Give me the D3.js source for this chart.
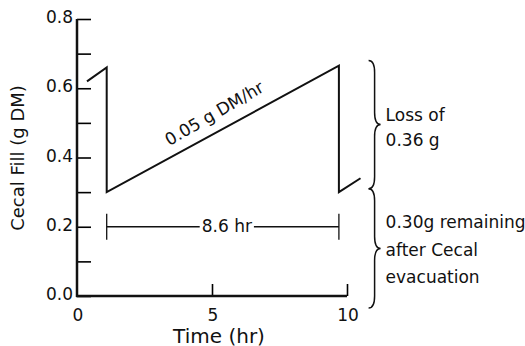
<!DOCTYPE html>
<html>
<head>
<meta charset="utf-8">
<script src="https://cdn.jsdelivr.net/npm/d3@7"></script>
<style>
  body { margin: 0; background: white; }
  text { font-family: "DejaVu Sans", sans-serif; fill: #111; }
</style>
</head>
<body>
<svg width="525" height="346"></svg>
<script>
// cecal fill sawtooth
var times = [0.37, 1.1, 1.1, 9.7, 9.7, 10.5]
var fill = [0.62, 0.66, 0.30, 0.665, 0.30, 0.34]

var yTicks = [0, 0.1, 0.2, 0.3, 0.4, 0.5, 0.6, 0.7, 0.8]
var yLabels = [0, 0.2, 0.4, 0.6, 0.8]
var xTicks = [0, 5, 10]

// annotations
var interval = { from: 1.1, to: 9.7, at: 0.2, text: "8.6 hr" }
var rateLabel = { t: 5.1, v: 0.525, angle: -30, text: "0.05 g DM/hr" }
var braces = [
  { top: 0.68, bottom: 0.31, lines: ["Loss of", "0.36 g"], textAt: [0.52, 0.448] },
  { top: 0.31, bottom: -0.035, lines: ["0.30g remaining", "after Cecal", "evacuation"], textAt: [0.21, 0.13, 0.052] }
]
var braceT = 10.8

var
  svg = d3.select("svg"),
  margin = { top: 19, right: 178, bottom: 50, left: 77 },
  width = svg.attr("width") - margin.left - margin.right,
  height = svg.attr("height") - margin.top - margin.bottom,
  g = svg.append("g").attr("transform", `translate(${margin.left},${margin.top})`)

var
  time = d3.scaleLinear().domain([0, 10]).range([0, width]),
  cecal = d3.scaleLinear().domain([0, 0.8]).range([height, 0])

// y axis, ticks pointing inward
var yAxis = g.append("g")
  .call(d3.axisRight(cecal).tickValues(yTicks).tickSize(14).tickFormat(""))
yAxis.select(".domain").remove()
yAxis.selectAll("line").attr("stroke-width", 1.6)

g.append("line")
  .attr("x1", 0).attr("x2", 0)
  .attr("y1", cecal(0.8)).attr("y2", cecal(0) + 1)
  .attr("stroke", "#111").attr("stroke-width", 2.5)

g.selectAll(".ylab").data(yLabels).enter().append("text")
  .attr("class", "ylab")
  .attr("x", -4)
  .attr("y", d => cecal(d) - 1)
  .attr("text-anchor", "end")
  .attr("dominant-baseline", "middle")
  .style("font-size", "17px")
  .text(d => d.toFixed(1))

// x axis, ticks pointing up
var xAxis = g.append("g").attr("transform", `translate(0,${height})`)
  .call(d3.axisTop(time).tickValues(xTicks.slice(1)).tickSize(12).tickFormat(""))
xAxis.select(".domain").remove()
xAxis.selectAll("line").attr("stroke-width", 1.6)

g.append("line")
  .attr("x1", -1).attr("x2", time(10))
  .attr("y1", height).attr("y2", height)
  .attr("stroke", "#111").attr("stroke-width", 2.5)

g.selectAll(".xlab").data(xTicks).enter().append("text")
  .attr("class", "xlab")
  .attr("x", d => time(d) + 1)
  .attr("y", height + 20)
  .attr("text-anchor", "middle")
  .attr("dominant-baseline", "middle")
  .style("font-size", "17px")
  .text(d => d)

svg.append("text")
  .attr("x", margin.left + width / 2 + 7)
  .attr("y", 337)
  .attr("text-anchor", "middle")
  .attr("dominant-baseline", "middle")
  .style("font-size", "20px")
  .text("Time (hr)")

svg.append("text")
  .attr("transform", `translate(19,${margin.top + 139}) rotate(-90)`)
  .attr("text-anchor", "middle")
  .attr("dominant-baseline", "middle")
  .style("font-size", "18px")
  .text("Cecal Fill (g DM)")

// sawtooth
var line = d3.line()
  .x((d, i) => time(times[i]))
  .y(d => cecal(d))

g.append("path")
  .attr("d", line(fill))
  .attr("fill", "none")
  .attr("stroke", "#111")
  .attr("stroke-width", 2)
  .attr("stroke-linejoin", "miter")

// rate label along the slope
g.append("text")
  .attr("transform", `translate(${time(rateLabel.t)},${cecal(rateLabel.v)}) rotate(${rateLabel.angle})`)
  .attr("text-anchor", "middle")
  .attr("dominant-baseline", "middle")
  .style("font-size", "17px")
  .text(rateLabel.text)

// 8.6 hr dimension line
var iy = cecal(interval.at)
g.append("line")
  .attr("x1", time(interval.from)).attr("x2", time(interval.to))
  .attr("y1", iy).attr("y2", iy)
  .attr("stroke", "#111").attr("stroke-width", 1.3)
g.selectAll(".cap").data([interval.from, interval.to]).enter().append("line")
  .attr("x1", d => time(d)).attr("x2", d => time(d))
  .attr("y1", iy - 13).attr("y2", iy + 13)
  .attr("stroke", "#111").attr("stroke-width", 1.3)
var mid = (time(interval.from) + time(interval.to)) / 2 + 4
var ilab = g.append("text")
  .attr("x", mid).attr("y", iy)
  .attr("text-anchor", "middle")
  .attr("dominant-baseline", "middle")
  .style("font-size", "17px")
  .text(interval.text)
var bb = ilab.node().getBBox()
g.insert("rect", () => ilab.node())
  .attr("x", bb.x - 2).attr("y", bb.y)
  .attr("width", bb.width + 4).attr("height", bb.height)
  .attr("fill", "white")

// curly braces with their notes
function bracePath(x, y0, y1, w) {
  var ym = (y0 + y1) / 2, a = 12, p = d3.path()
  p.moveTo(x, y0)
  p.quadraticCurveTo(x + w / 2, y0, x + w / 2, y0 + a)
  p.lineTo(x + w / 2, ym - a)
  p.quadraticCurveTo(x + w / 2, ym, x + w, ym)
  p.quadraticCurveTo(x + w / 2, ym, x + w / 2, ym + a)
  p.lineTo(x + w / 2, y1 - a)
  p.quadraticCurveTo(x + w / 2, y1, x, y1)
  return p.toString()
}

braces.forEach(b => {
  g.append("path")
    .attr("d", bracePath(time(braceT), cecal(b.top), cecal(b.bottom), 12))
    .attr("fill", "none")
    .attr("stroke", "#111")
    .attr("stroke-width", 1.5)
  b.lines.forEach((s, i) => {
    g.append("text")
      .attr("x", time(braceT) + 17)
      .attr("y", cecal(b.textAt[i]))
      .attr("dominant-baseline", "middle")
      .style("font-size", "17px")
      .text(s)
  })
})
</script>
</body>
</html>
